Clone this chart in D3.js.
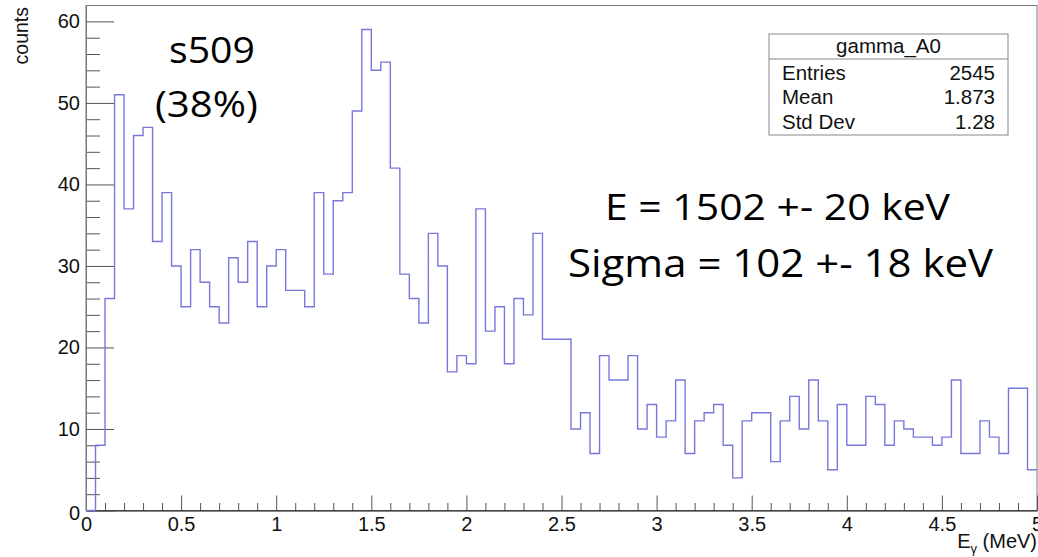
<!DOCTYPE html>
<html>
<head>
<meta charset="utf-8">
<script src="https://cdn.jsdelivr.net/npm/d3@7"></script>
<style>
  html, body { margin: 0; padding: 0; background: #fff; }
  svg { display: block; }
</style>
</head>
<body>
<svg id="chart" width="1038" height="557"></svg>
<script>
// ---- Data (100 bins of 0.05 MeV) ----
const binEdgesStart = 0;
const binWidth = 0.05;
const counts = [
  0, 8, 26, 51, 37, 46, 47, 33, 39, 30,
  25, 32, 28, 25, 23, 31, 28, 33, 25, 30,
  32, 27, 27, 25, 39, 29, 38, 39, 49, 59,
  54, 55, 42, 29, 26, 23, 34, 30, 17, 19,
  18, 37, 22, 25, 18, 26, 24, 34, 21, 21,
  21, 10, 12, 7, 19, 16, 16, 19, 10, 13,
  9, 11, 16, 7, 11, 12, 13, 8, 4, 11,
  12, 12, 6, 11, 14, 10, 16, 11, 5, 13,
  8, 8, 14, 13, 8, 11, 10, 9, 9, 8,
  9, 16, 7, 7, 11, 9, 7, 15, 15, 5
];
const xMajorTicks = [0, 0.5, 1, 1.5, 2, 2.5, 3, 3.5, 4, 4.5, 5];
const xTickLabels = ["0", "0.5", "1", "1.5", "2", "2.5", "3", "3.5", "4", "4.5", "5"];
const yMajorTicks = [0, 10, 20, 30, 40, 50, 60];
const yTickLabels = ["0", "10", "20", "30", "40", "50", "60"];
const statsTitle = "gamma_A0";
const statsNames = ["Entries", "Mean", "Std Dev"];
const statsValues = ["2545", "1.873", "1.28"];
const annoLabel = ["s509", "(38%)"];
const fitText = ["E = 1502 +- 20 keV", "Sigma = 102 +- 18 keV"];

// ---- Layout ----
const W = 1038, H = 557;
const pLeft = 86, pRight = 1037, pTop = 5.5, pBottom = 510.5;
const xMax = 5, yMax = d3.max(counts) * 1.05;

const svg = d3.select("#chart");
svg.append("rect").attr("width", W).attr("height", H).attr("fill", "#fff");

const x = d3.scaleLinear().domain([0, xMax]).range([pLeft, pRight]);
const y = d3.scaleLinear().domain([0, yMax]).range([pBottom, pTop]);

const axisFont = "'Liberation Sans', Arial, Helvetica, sans-serif";
const plotW = pRight - pLeft, plotH = pBottom - pTop;

// frame
svg.append("rect")
  .attr("x", pLeft).attr("y", pTop)
  .attr("width", plotW).attr("height", plotH)
  .attr("fill", "none").attr("stroke", "#7a7a7a").attr("stroke-width", 1);

// minor ticks
const xMinor = d3.range(0, 50).map(i => i * 0.1).filter(v => Math.abs(v * 2 - Math.round(v * 2)) > 1e-6);
const yMinor = d3.range(0, 31).map(i => i * 2).filter(v => v % 10 !== 0 && v <= yMax);

const gxMinor = svg.append("g").attr("transform", `translate(0,${pBottom})`)
  .call(d3.axisBottom(x).tickValues(xMinor).tickSizeInner(-7.5).tickSizeOuter(0).tickFormat(""));
const gyMinor = svg.append("g").attr("transform", `translate(${pLeft},0)`)
  .call(d3.axisLeft(y).tickValues(yMinor).tickSizeInner(-14).tickSizeOuter(0).tickFormat(""));

// major ticks + labels
const gx = svg.append("g").attr("transform", `translate(0,${pBottom})`)
  .call(d3.axisBottom(x).tickValues(xMajorTicks).tickSizeInner(-15).tickSizeOuter(0)
    .tickPadding(6).tickFormat((d, i) => xTickLabels[i]));
const gy = svg.append("g").attr("transform", `translate(${pLeft},0)`)
  .call(d3.axisLeft(y).tickValues(yMajorTicks).tickSizeInner(-28).tickSizeOuter(0)
    .tickPadding(6).tickFormat((d, i) => yTickLabels[i]));

[gx, gy, gxMinor, gyMinor].forEach(g => {
  g.selectAll(".tick line").attr("stroke", "#555").attr("stroke-width", 1);
  g.selectAll(".tick text").attr("fill", "#111")
    .style("font-family", axisFont).style("font-size", "20px");
});
gx.select(".domain").attr("stroke", "#111");
gy.select(".domain").attr("stroke", "#777");
gxMinor.select(".domain").remove();
gyMinor.select(".domain").remove();
// y "0" label sits a bit lower in ROOT
gy.selectAll(".tick text").filter(d => d === 0).attr("dy", "0.45em");

// histogram step outline
const pts = counts.map((v, i) => [binEdgesStart + i * binWidth, v]);
pts.push([binEdgesStart + counts.length * binWidth, counts[counts.length - 1]]);
const line = d3.line().x(d => x(d[0])).y(d => y(d[1])).curve(d3.curveStepAfter);
svg.append("path")
  .attr("d", line(pts))
  .attr("fill", "none")
  .attr("stroke", "#7878dc")
  .attr("stroke-width", 1.4);

// axis titles
svg.append("text")
  .attr("transform", "translate(28,7) rotate(-90)")
  .attr("text-anchor", "end")
  .style("font-family", axisFont).style("font-size", "19.5px").attr("fill", "#111")
  .text("counts");

const xt = svg.append("text")
  .attr("x", 1037).attr("y", 548)
  .attr("text-anchor", "end")
  .style("font-family", axisFont).style("font-size", "20px").attr("fill", "#111");
xt.append("tspan").text("E");
xt.append("tspan").attr("dy", 5).style("font-size", "13px").text("γ");
xt.append("tspan").attr("dy", -5).text(" (MeV)");

// stats box
const sb = { x: 769, y: 34, w: 239, h: 101, sep: 59 };
svg.append("rect").attr("x", sb.x).attr("y", sb.y).attr("width", sb.w).attr("height", sb.h)
  .attr("fill", "#fff").attr("stroke", "#888").attr("stroke-width", 1);
svg.append("line").attr("x1", sb.x).attr("x2", sb.x + sb.w).attr("y1", sb.sep).attr("y2", sb.sep)
  .attr("stroke", "#888");
svg.append("text").attr("x", sb.x + sb.w / 2).attr("y", 53).attr("text-anchor", "middle")
  .style("font-family", axisFont).style("font-size", "20.5px").attr("fill", "#111").text(statsTitle);
statsNames.forEach((n, i) => {
  svg.append("text").attr("x", 782).attr("y", 79.5 + i * 24.8)
    .style("font-family", axisFont).style("font-size", "20.5px").attr("fill", "#111").text(n);
  svg.append("text").attr("x", 995).attr("y", 79.5 + i * 24.8).attr("text-anchor", "end")
    .style("font-family", axisFont).style("font-size", "20.5px").attr("fill", "#111").text(statsValues[i]);
});

// annotations
const annoFont = "'Open Sans', 'Noto Sans', sans-serif";
svg.append("text").attr("x", 169).attr("y", 63)
  .attr("textLength", 86).attr("lengthAdjust", "spacingAndGlyphs")
  .style("font-family", annoFont).style("font-size", "36px").attr("fill", "#000").text(annoLabel[0]);
svg.append("text").attr("x", 155).attr("y", 117)
  .attr("textLength", 103).attr("lengthAdjust", "spacingAndGlyphs")
  .style("font-family", annoFont).style("font-size", "37px").attr("fill", "#000").text(annoLabel[1]);
svg.append("text").attr("x", 605).attr("y", 220)
  .attr("textLength", 345).attr("lengthAdjust", "spacingAndGlyphs")
  .style("font-family", annoFont).style("font-size", "37px").attr("fill", "#000").text(fitText[0]);
svg.append("text").attr("x", 568).attr("y", 277)
  .attr("textLength", 425).attr("lengthAdjust", "spacingAndGlyphs")
  .style("font-family", annoFont).style("font-size", "38px").attr("fill", "#000").text(fitText[1]);
</script>
</body>
</html>
